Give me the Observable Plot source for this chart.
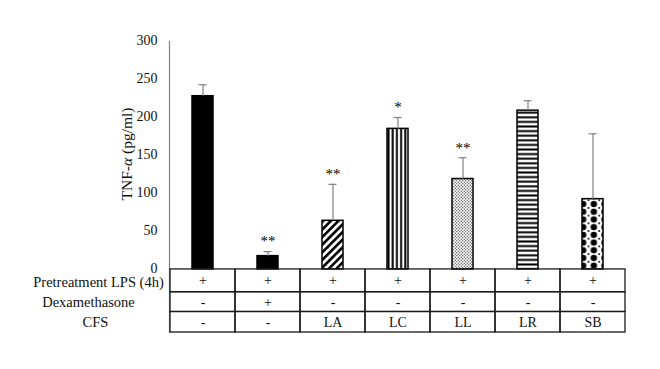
<!DOCTYPE html>
<html><head><meta charset="utf-8">
<script src="https://cdn.jsdelivr.net/npm/d3@7"></script>
<script src="https://cdn.jsdelivr.net/npm/@observablehq/plot@0.6"></script>
<style>body{margin:0;background:#fff} svg{display:block}</style>
</head><body><div id="chart"></div>
<script>
const groups = ["LPS", "DEX", "LA", "LC", "LL", "LR", "SB"];
const lpsRow = ["+", "+", "+", "+", "+", "+", "+"];
const dexRow = ["-", "+", "-", "-", "-", "-", "-"];
const cfsRow = ["-", "-", "LA", "LC", "LL", "LR", "SB"];
const means = [228, 17.5, 64, 185, 119, 209, 92.5];
const errors = [15, 6, 48, 15, 28, 13, 86];
const stars = ["", "**", "**", "*", "**", "", ""];
const fills = ["solid", "solid", "diag", "vert", "dots", "horiz", "diamond"];
const rowLabels = ["Pretreatment LPS (4h)", "Dexamethasone", "CFS"];
const yTicks = [0, 50, 100, 150, 200, 250, 300];
const yLabel = "TNF-α (pg/ml)";

const bars = groups.map((g, i) => ({
  g, mean: means[i], top: means[i] + errors[i], star: stars[i],
  fill: fills[i] === "solid" ? "black" : `url(#pat-${fills[i]})`
}));
const rowBands = [[0, -30], [-30, -56], [-56, -83]];
const rowValues = [lpsRow, dexRow, cfsRow];
const cells = [];
rowValues.forEach((row, r) => row.forEach((v, i) =>
  cells.push({g: groups[i], v, y1: rowBands[r][0], y2: rowBands[r][1]})));
const mid = r => (rowBands[r][0] + rowBands[r][1]) / 2;

const svg = Plot.plot({
  width: 660, height: 369,
  marginLeft: 169, marginRight: 35, marginTop: 41, marginBottom: 37,
  x: {domain: groups, padding: 0, axis: null},
  y: {domain: [-83, 300], axis: null},
  color: {type: "identity"},
  style: {fontFamily: "'Liberation Serif', 'Times New Roman', serif", fontSize: "14px", color: "#000", background: "#fff"},
  marks: [
    Plot.frame({anchor: "left", stroke: "#808080", strokeWidth: 1.2}),
    Plot.axisY(yTicks, {tickSize: 0, tickPadding: 12, label: null, fontSize: 14, fill: "#111", dy: -1}),
    Plot.barY(bars, {x: "g", y: "mean", fill: "fill", stroke: "black", strokeWidth: 1.5, insetLeft: 22, insetRight: 22}),
    Plot.ruleX(bars, {x: "g", y1: "mean", y2: "top", stroke: "#808080", strokeWidth: 1.2}),
    Plot.tickY(bars, {x: "g", y: "top", stroke: "#808080", strokeWidth: 1.2, insetLeft: 28.5, insetRight: 28.5}),
    Plot.text(bars, {x: "g", y: "top", text: "star", dy: -10, fontSize: 15, fill: "#000"}),
    Plot.barY(cells, {x: "g", y1: "y1", y2: "y2", fill: "none", stroke: "#1a1a1a", strokeWidth: 1.3}),
    Plot.text(cells, {x: "g", y: d => (d.y1 + d.y2) / 2, text: "v", fontSize: 14, fill: "#111"}),
    Plot.text([rowLabels[0]], {text: d => d, y: mid(0), frameAnchor: "left", textAnchor: "middle", dx: -71, dy: 1.5, fontSize: 14.5, fill: "#111"}),
    Plot.text([rowLabels[1]], {text: d => d, y: mid(1), frameAnchor: "left", textAnchor: "middle", dx: -81, fontSize: 14.5, fill: "#111"}),
    Plot.text([rowLabels[2]], {text: d => d, y: mid(2), frameAnchor: "left", textAnchor: "middle", dx: -74, fontSize: 14.5, fill: "#111"}),
    Plot.text([yLabel], {text: d => d, y: 152, frameAnchor: "left", textAnchor: "middle", dx: -42, rotate: -90, fontSize: 15.5, fill: "#111"})
  ]
});

const defs = document.createElementNS("http://www.w3.org/2000/svg", "defs");
defs.innerHTML = `
<pattern id="pat-diag" patternUnits="userSpaceOnUse" width="5.4" height="5.4" patternTransform="rotate(45)">
  <rect width="5.4" height="5.4" fill="#fff"/><rect width="2.6" height="5.4" fill="#000"/></pattern>
<pattern id="pat-vert" patternUnits="userSpaceOnUse" width="4.2" height="10">
  <rect width="4.2" height="10" fill="#fff"/><rect x="1.1" width="2" height="10" fill="#000"/></pattern>
<pattern id="pat-horiz" patternUnits="userSpaceOnUse" width="10" height="4.6">
  <rect width="10" height="4.6" fill="#fff"/><rect y="1.3" width="10" height="2" fill="#000"/></pattern>
<pattern id="pat-dots" patternUnits="userSpaceOnUse" width="3" height="3">
  <rect width="3" height="3" fill="#fff"/><circle cx="0.75" cy="0.75" r="0.7" fill="#555"/><circle cx="2.25" cy="2.25" r="0.7" fill="#555"/></pattern>
<pattern id="pat-diamond" patternUnits="userSpaceOnUse" width="10.7" height="7.7">
  <rect width="10.7" height="7.7" fill="#fff"/><circle cx="5.35" cy="3.85" r="3.2" fill="#000"/>
  <circle cx="0" cy="0" r="1" fill="#000"/><circle cx="10.7" cy="0" r="1" fill="#000"/>
  <circle cx="0" cy="7.7" r="1" fill="#000"/><circle cx="10.7" cy="7.7" r="1" fill="#000"/></pattern>`;
svg.insertBefore(defs, svg.firstChild);
// align each pattern to the left edge of the bar that uses it
svg.querySelectorAll("rect").forEach(r => {
  const f = r.getAttribute("fill");
  if (f && f.startsWith("url(#pat-")) {
    const id = f.slice(5, -1);
    const p = defs.querySelector(id);
    if (p && p.id !== "pat-diag") p.setAttribute("x", r.getAttribute("x"));
  }
});
svg.querySelectorAll("text").forEach(t => {
  if (t.textContent === yLabel) {
    t.innerHTML = 'TNF-<tspan font-style="italic">α</tspan> (pg/ml)';
  }
});
document.getElementById("chart").appendChild(svg);
</script>
</body></html>
